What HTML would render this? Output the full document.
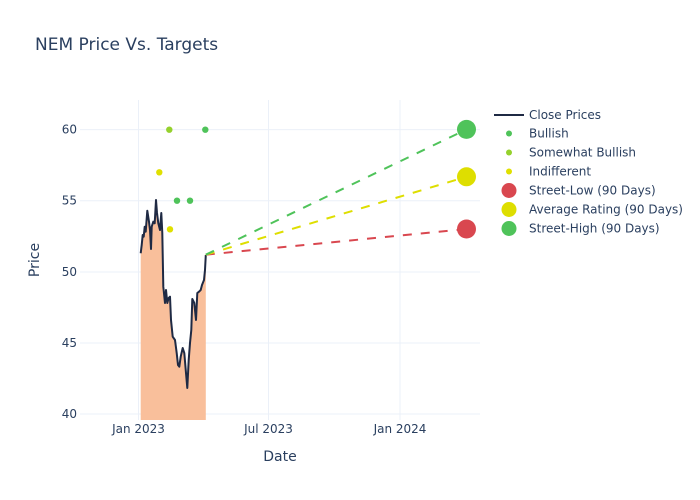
<!DOCTYPE html>
<html><head><meta charset="utf-8"><style>
html,body{margin:0;padding:0;background:#fff;}
svg{display:block;font-family:"DejaVu Sans","Liberation Sans",sans-serif;}
</style></head><body>
<svg width="700" height="500" viewBox="0 0 700 500" xmlns="http://www.w3.org/2000/svg">
<rect width="700" height="500" fill="#fff"/>
<!-- grid -->
<g stroke="#ebf0f8" stroke-width="1">
<line x1="80" x2="480" y1="414" y2="414"/>
<line x1="80" x2="480" y1="343" y2="343"/>
<line x1="80" x2="480" y1="272" y2="272"/>
<line x1="80" x2="480" y1="200.7" y2="200.7"/>
<line x1="80" x2="480" y1="129.6" y2="129.6"/>
<line x1="138.5" x2="138.5" y1="100" y2="420"/>
<line x1="268.5" x2="268.5" y1="100" y2="420"/>
<line x1="400" x2="400" y1="100" y2="420"/>
</g>
<!-- fill -->
<polygon fill="#f9bf9b" points="140.7,420 140.7,253.3 141.7,245 142.7,235 143.7,236.7 144.7,226.7 145.7,231.7 147.3,210.7 149,221.7 150,230 151,249 151.7,226.7 153.3,221.7 154.7,223.3 156,200 157,213 158.3,223.3 160,230 161.3,213 162.3,233 163.3,286.7 165,303 166,290 167.3,303 168.7,298 170,296.7 171,320 172.7,336.7 175,340 176.7,353 178,365 179.3,366.7 180.7,356.7 182.7,348 184.3,353 186,373 187.3,388 188.7,360 190,343 191.3,330 192.3,299 194.3,303 196,320 197.3,293 199,291.7 200.7,290 202,285 204,280 205,270 205.8,255 205.8,420"/>
<polyline fill="none" stroke="#1f2a44" stroke-width="2" stroke-linejoin="round" points="140.7,253.3 141.7,245 142.7,235 143.7,236.7 144.7,226.7 145.7,231.7 147.3,210.7 149,221.7 150,230 151,249 151.7,226.7 153.3,221.7 154.7,223.3 156,200 157,213 158.3,223.3 160,230 161.3,213 162.3,233 163.3,286.7 165,303 166,290 167.3,303 168.7,298 170,296.7 171,320 172.7,336.7 175,340 176.7,353 178,365 179.3,366.7 180.7,356.7 182.7,348 184.3,353 186,373 187.3,388 188.7,360 190,343 191.3,330 192.3,299 194.3,303 196,320 197.3,293 199,291.7 200.7,290 202,285 204,280 205,270 205.8,255"/>
<!-- dashed target lines -->
<g fill="none" stroke-width="2" stroke-dasharray="9,9">
<line x1="205.8" y1="254.7" x2="466.5" y2="229" stroke="#d9474f"/>
<line x1="205.8" y1="254.7" x2="466.5" y2="176.8" stroke="#dede00"/>
<line x1="205.8" y1="254.7" x2="466.5" y2="129.4" stroke="#4fc35a"/>
</g>
<!-- analyst points -->
<circle cx="169.3" cy="129.7" r="3.2" fill="#95d12d"/>
<circle cx="205.3" cy="129.7" r="3.2" fill="#4fc35a"/>
<circle cx="159.3" cy="172.3" r="3.2" fill="#e0e000"/>
<circle cx="177" cy="200.7" r="3.2" fill="#4fc35a"/>
<circle cx="190" cy="200.7" r="3.2" fill="#4fc35a"/>
<circle cx="170" cy="229.3" r="3.2" fill="#e0e000"/>
<!-- target markers -->
<circle cx="466.5" cy="229" r="9.5" fill="#d9474f"/>
<circle cx="466.5" cy="176.8" r="9.5" fill="#dede00"/>
<circle cx="466.5" cy="129.4" r="9.5" fill="#4fc35a"/>
<!-- y ticks -->
<g fill="#2a3f5f" font-size="12" text-anchor="end">
<text x="77" y="418">40</text>
<text x="77" y="347">45</text>
<text x="77" y="276">50</text>
<text x="77" y="204.7">55</text>
<text x="77" y="133.6">60</text>
</g>
<!-- x ticks -->
<g fill="#2a3f5f" font-size="12" text-anchor="middle">
<text x="138.5" y="433">Jan 2023</text>
<text x="268.5" y="433">Jul 2023</text>
<text x="400" y="433">Jan 2024</text>
</g>
<text x="280" y="461" fill="#2a3f5f" font-size="14" text-anchor="middle">Date</text>
<text transform="translate(39,260) rotate(-90)" fill="#2a3f5f" font-size="14" text-anchor="middle">Price</text>
<text x="35" y="50" fill="#2a3f5f" font-size="17">NEM Price Vs. Targets</text>
<!-- legend -->
<g font-size="12" fill="#2a3f5f">
<line x1="494" x2="524" y1="115" y2="115" stroke="#1f2a44" stroke-width="2"/>
<text x="529" y="119">Close Prices</text>
<circle cx="509" cy="133.5" r="3" fill="#4fc35a"/>
<text x="529" y="137.5">Bullish</text>
<circle cx="509" cy="152.5" r="3" fill="#95d12d"/>
<text x="529" y="156.5">Somewhat Bullish</text>
<circle cx="509" cy="171.5" r="3" fill="#e0e000"/>
<text x="529" y="175.5">Indifferent</text>
<circle cx="509" cy="190.5" r="7.5" fill="#d9474f"/>
<text x="529" y="194.5">Street-Low (90 Days)</text>
<circle cx="509" cy="209.5" r="7.5" fill="#dede00"/>
<text x="529" y="213.5">Average Rating (90 Days)</text>
<circle cx="509" cy="228.5" r="7.5" fill="#4fc35a"/>
<text x="529" y="232.5">Street-High (90 Days)</text>
</g>
</svg>
</body></html>
